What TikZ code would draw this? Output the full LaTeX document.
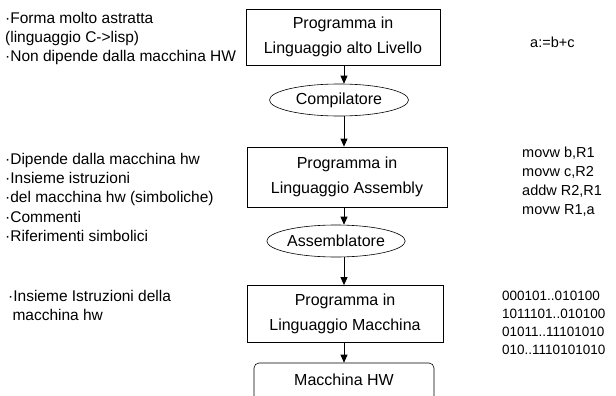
\documentclass[tikz,border=0pt]{standalone}
\usepackage{fontspec}
\setmainfont{Liberation Sans}
\usetikzlibrary{arrows.meta,shapes.geometric}
\tikzset{
  prog/.style={draw, line width=0.8pt, align=center, font=\fontsize{16}{25}\selectfont, inner sep=0pt},
  tool/.style={draw, line width=0.6pt, ellipse, inner sep=0pt, font=\fontsize{16}{18}\selectfont},
  hw/.style={draw, line width=0.6pt, rounded corners=5pt, inner sep=0pt},
  flow/.style={line width=0.8pt, -{Triangle[width=7pt,length=8pt]}},
  note/.style={anchor=north west, align=left, inner sep=0pt, font=\fontsize{15.5}{19.2}\selectfont},
  code/.style={anchor=north west, align=left, inner sep=0pt, font=\fontsize{14.5}{19}\selectfont},
  bin/.style={anchor=north west, align=left, inner sep=0pt, font=\fontsize{13.5}{18}\selectfont}
}
\begin{document}
\begin{tikzpicture}[x=1pt,y=-1pt]
\useasboundingbox (0,0) rectangle (616,396);
\clip (0,0) rectangle (616,396);
\coordinate (ax) at (344,0);
\node[prog, minimum width=194pt, minimum height=56pt] (b1) at (343,37) {Programma in\\Linguaggio alto Livello};
\node[tool, minimum width=139pt, minimum height=32pt] (e1) at (339,100) {Compilatore};
\node[prog, minimum width=200pt, minimum height=60pt] (b2) at (347,177) {Programma in\\Linguaggio Assembly};
\node[tool, minimum width=130pt, minimum height=32pt] (e2) at (336,241) {Assemblatore};
\node[prog, minimum width=196pt, minimum height=57pt] (b3) at (345,314) {Programma in\\Linguaggio Macchina};
\node[hw, minimum width=180pt, minimum height=50pt] (b4) at (344,388) {};
\node[font=\fontsize{16}{18}\selectfont] (t4) at (344,380) {Macchina HW};
\draw[flow] (b1.south -| ax) -- (e1.north -| ax);
\draw[flow] (e1.south -| ax) -- (b2.north -| ax);
\draw[flow] (b2.south -| ax) -- (e2.north -| ax);
\draw[flow] (e2.south -| ax) -- (b3.north -| ax);
\draw[flow] (b3.south -| ax) -- (b4.north -| ax);
\node[note] (n1) at (5,12) {·Forma molto astratta\\(linguaggio C->lisp)\\·Non dipende dalla macchina HW};
\node[note] (n2) at (5,153) {·Dipende dalla macchina hw\\·Insieme istruzioni\\·del macchina hw (simboliche)\\·Commenti\\·Riferimenti simbolici};
\node[note] (n3) at (8,290) {·Insieme Istruzioni della\\\ macchina hw};
\node[code] (c1) at (530,37) {a:=b+c};
\node[code] (c2) at (522,147) {movw b,R1\\movw c,R2\\addw R2,R1\\movw R1,a};
\node[bin] (c3) at (502,291) {000101..010100\\1011101..010100\\01011..11101010\\010..1110101010};
\end{tikzpicture}
\end{document}
